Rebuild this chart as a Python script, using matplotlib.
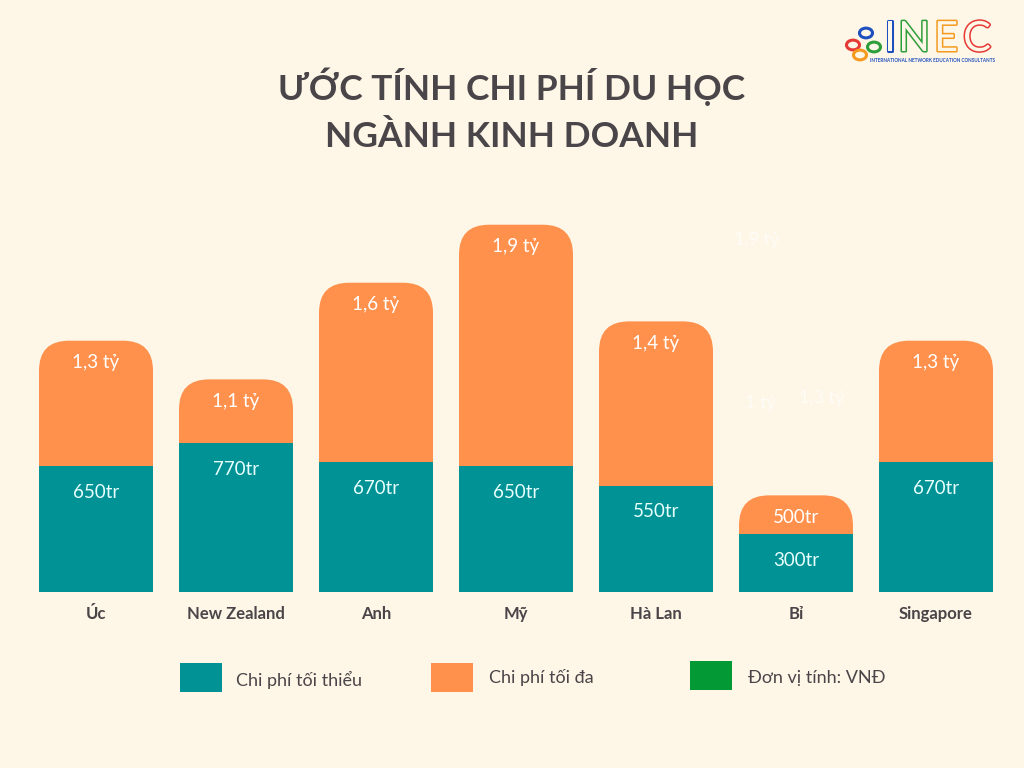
import matplotlib
matplotlib.use("Agg")
import matplotlib.pyplot as plt
from matplotlib.patches import FancyBboxPatch, Rectangle, Circle
import matplotlib.patheffects as pe

plt.rcParams['font.family'] = ['Lato', 'DejaVu Sans']

countries = ["Úc", "New Zealand", "Anh", "Mỹ", "Hà Lan", "Bỉ", "Singapore"]
min_cost = [650, 770, 670, 650, 550, 300, 670]      # triệu VNĐ
max_cost = [1300, 1100, 1600, 1900, 1400, 500, 1300]  # triệu VNĐ
min_labels = ["650tr", "770tr", "670tr", "650tr", "550tr", "300tr", "670tr"]
max_labels = ["1,3 tỷ", "1,1 tỷ", "1,6 tỷ", "1,9 tỷ", "1,4 tỷ", "500tr", "1,3 tỷ"]
legend_labels = ["Chi phí tối thiểu", "Chi phí tối đa", "Đơn vị tính: VNĐ"]
title_text = "ƯỚC TÍNH CHI PHÍ DU HỌC\nNGÀNH KINH DOANH"

BG = "#FEF6E7"
TEAL = "#009294"
ORANGE = "#FF914D"
GREEN = "#039A36"
DARK = "#4A4548"

W, H = 1024, 768
fig = plt.figure(figsize=(W / 100, H / 100), dpi=100, facecolor=BG)

ax_left, ax_right = 26, 1006
ax_bottom, ax_top = 592, 200
ax = fig.add_axes([ax_left / W, 1 - ax_bottom / H, (ax_right - ax_left) / W, (ax_bottom - ax_top) / H])
ax.set_facecolor(BG)
px_per_unit_y = 0.1933
ax.set_xlim(-0.5, len(countries) - 0.5)
ax.set_ylim(0, (ax_bottom - ax_top) / px_per_unit_y)
for s in ax.spines.values():
    s.set_visible(False)

x = list(range(len(countries)))
bw = 114 / 140
radius_px = 30
rx = radius_px / 140
aspect = (1 / px_per_unit_y) / (1 / 140)

obars = ax.bar(x, max_cost, width=bw, color=ORANGE, zorder=1)
for p in obars:
    fb = FancyBboxPatch(p.get_xy(), p.get_width(), p.get_height(),
                        boxstyle=f"round,pad=0,rounding_size={rx}",
                        mutation_aspect=aspect, facecolor=ORANGE, edgecolor="none", zorder=1)
    ax.add_patch(fb)
    p.remove()
ax.bar(x, min_cost, width=bw, color=TEAL, zorder=2)

for xi, mn, mx, ml, xl in zip(x, min_cost, max_cost, min_labels, max_labels):
    ax.annotate(xl, (xi, mx), xytext=(0, -22), textcoords="offset pixels",
                ha="center", va="center", color="white", fontsize=13.5, zorder=3)
    ax.annotate(ml, (xi, mn), xytext=(0, -26), textcoords="offset pixels",
                ha="center", va="center", color="#E8FFFF", fontsize=13.5, zorder=3)

ax.set_xticks(x)
ax.set_xticklabels(countries, fontsize=12, fontweight="bold", color=DARK)
ax.tick_params(axis="x", length=0, pad=10)
ax.set_yticks([])

fig.text(757 / W, 1 - 240 / H, "1,9 tỷ", color="white", alpha=0.7, fontsize=13, ha="center", va="center")
fig.text(760 / W, 1 - 403 / H, "1 tỷ", color="white", alpha=0.7, fontsize=13, ha="center", va="center")
fig.text(822 / W, 1 - 398 / H, "1,3 tỷ", color="white", alpha=0.7, fontsize=13, ha="center", va="center")

lines = title_text.split("\n")
fig.text(512 / W, 1 - 87 / H, lines[0], ha="center", va="center", fontsize=25.5,
         fontweight="bold", color=DARK)
fig.text(512 / W, 1 - 137 / H, lines[1], ha="center", va="center", fontsize=25.5,
         fontweight="bold", color=DARK)

leg_colors = [TEAL, ORANGE, GREEN]
sq = [(180, 663), (431, 663), (690, 661)]
txt = [(236, 680), (489, 678), (748, 678)]
for c, (sx, sy), (tx, ty), lab in zip(leg_colors, sq, txt, legend_labels):
    fig.add_artist(Rectangle((sx / W, 1 - (sy + 29) / H), 42 / W, 29 / H,
                             transform=fig.transFigure, facecolor=c, edgecolor="none"))
    fig.text(tx / W, 1 - ty / H, lab, ha="left", va="center", fontsize=13, color=DARK)

# logo
logo_circles = [(853, 45, "#E53935"), (866, 33, "#1E4FBF"), (874, 47, "#2E9E3A"), (860, 55, "#F39A1F")]
for cx, cy, col in logo_circles:
    fig.add_artist(Circle((cx / W, 1 - cy / H), 6.5 / W, transform=fig.transFigure,
                          facecolor="none", edgecolor=col, linewidth=2.2))
logo_letters = [("I", 890, "#1E4FBF"), ("N", 914, "#2E9E3A"), ("E", 946, "#F39A1F"), ("C", 977, "#E53935")]
for ch, lx, col in logo_letters:
    fig.text(lx / W, 1 - 39 / H, ch, ha="center", va="center", fontsize=30,
             color=BG, fontweight="normal",
             path_effects=[pe.Stroke(linewidth=2.2, foreground=col), pe.Normal()])
fig.text(932 / W, 1 - 61 / H, "INTERNATIONAL NETWORK EDUCATION CONSULTANTS", ha="center",
         va="center", fontsize=3.3, fontweight="bold", color="#1E4FBF")

fig.savefig("out.png", dpi=100, facecolor=BG)
